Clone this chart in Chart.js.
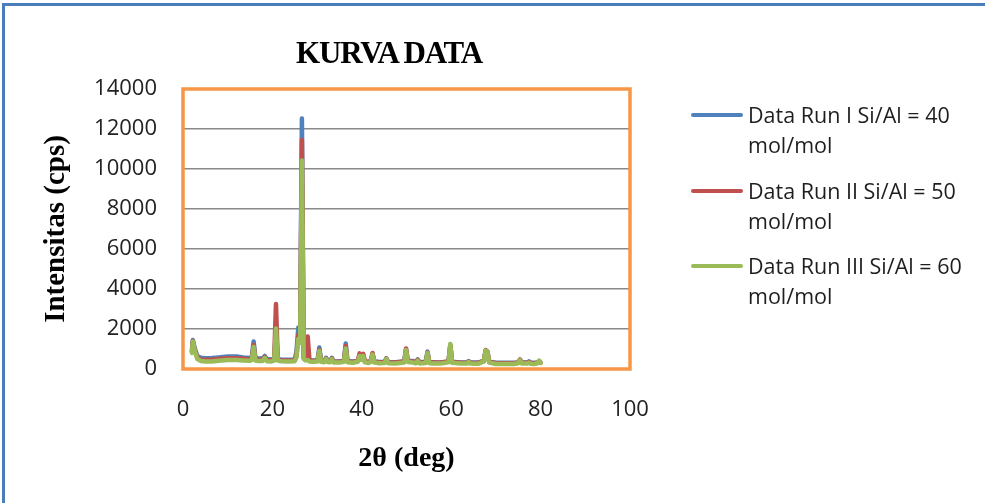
<!DOCTYPE html>
<html>
<head>
<meta charset="utf-8">
<script src="https://cdn.jsdelivr.net/npm/chart.js@4.4.1/dist/chart.umd.min.js"></script>
<style>
  html, body { margin: 0; padding: 0; background: #fff; }
  #wrap { position: relative; width: 985px; height: 503px; overflow: hidden; }
  #frame { position: absolute; left: 2px; top: 3px; width: 1000px; height: 520px;
           border-left: 3px solid #4a7ebb; border-top: 3px solid #4a7ebb; }
  canvas { position: absolute; left: 0; top: 0; }
  #title { position: absolute; left: 289px; width: 200px; top: 37px; text-align: center;
           font: bold 31px "Liberation Serif", serif; line-height: 31px; letter-spacing: -1.2px; color: #000; }
  .leg { position: absolute; left: 691px; font: 21.5px "Open Sans", sans-serif; line-height: 30px; color: #1e1e1e; }
  .leg .sw { position: absolute; left: 0; top: 13px; width: 52px; height: 4px; border-radius: 2px; }
  .leg .tx { margin-left: 57px; white-space: nowrap; }
</style>
</head>
<body>
<div id="wrap">
  <div id="frame"></div>
  <canvas id="xrd" width="985" height="503"></canvas>
  <div id="title">KURVA DATA</div>
  <div id="legend"></div>
</div>
<script>
// 2-theta positions (deg)
const twoTheta = [2.0, 2.2, 2.6, 3.2, 4.0, 5.0, 6.5, 8.0, 10.0, 12.0,
  13.5, 15.0, 15.4, 15.8, 16.2, 16.8, 17.8, 18.3, 18.8, 19.8,
  20.4, 20.8, 21.2, 22.0, 23.5, 25.0, 25.4, 25.8, 26.2, 26.6,
  27.0, 27.4, 27.9, 28.3, 29.0, 30.1, 30.5, 30.9, 31.6, 32.0,
  32.4, 32.9, 33.3, 33.7, 35.0, 36.0, 36.4, 36.8, 38.0, 39.1,
  39.5, 39.9, 40.3, 40.7, 41.5, 42.0, 42.4, 42.8, 44.0, 45.1,
  45.5, 45.9, 47.5, 49.5, 49.9, 50.3, 51.5, 52.1, 52.5, 52.9,
  54.3, 54.7, 55.1, 56.0, 57.5, 59.4, 59.8, 60.2, 62.0, 63.5,
  63.9, 64.3, 66.0, 67.3, 67.7, 68.1, 68.5, 70.0, 72.0, 74.0,
  75.0, 75.4, 75.8, 77.0, 77.4, 77.8, 78.6, 79.3, 79.7, 80.0];

// intensities (cps)
const run1 = [900, 1450, 1050, 650, 560, 540, 550, 580, 620, 620,
  580, 550, 600, 1380, 560, 520, 520, 650, 500, 480,
  500, 1900, 480, 470, 460, 470, 900, 2080, 1500, 12530,
  600, 480, 480, 430, 420, 430, 1070, 420, 400, 560,
  400, 400, 560, 390, 380, 420, 1280, 400, 370, 400,
  700, 500, 700, 380, 360, 400, 750, 380, 350, 360,
  530, 350, 340, 380, 980, 400, 400, 350, 480, 340,
  360, 870, 350, 340, 330, 380, 1200, 360, 330, 330,
  400, 330, 320, 400, 900, 850, 360, 310, 310, 310,
  330, 430, 320, 330, 380, 320, 310, 330, 380, 320];

const run2 = [850, 1400, 1000, 580, 480, 460, 470, 500, 540, 540,
  510, 480, 520, 1200, 490, 460, 460, 600, 450, 440,
  480, 3250, 480, 440, 430, 440, 700, 1700, 1400, 11450,
  550, 500, 1620, 420, 400, 410, 950, 400, 380, 520,
  380, 380, 530, 370, 360, 400, 1150, 380, 350, 400,
  780, 520, 760, 370, 350, 400, 800, 370, 330, 350,
  520, 330, 320, 380, 1030, 400, 370, 330, 460, 320,
  340, 820, 330, 320, 310, 370, 1180, 350, 310, 310,
  380, 310, 300, 400, 950, 880, 360, 290, 290, 290,
  330, 480, 310, 310, 350, 300, 290, 320, 380, 310];

const run3 = [800, 1380, 950, 500, 400, 370, 380, 410, 450, 450,
  430, 410, 450, 1100, 420, 400, 400, 560, 390, 380,
  420, 2030, 420, 390, 380, 390, 600, 1500, 1300, 10420,
  500, 430, 450, 380, 360, 370, 900, 360, 340, 500,
  340, 340, 500, 330, 320, 360, 1030, 340, 310, 360,
  650, 460, 650, 330, 300, 350, 720, 320, 290, 300,
  500, 290, 280, 330, 950, 350, 320, 280, 420, 280,
  300, 800, 290, 280, 270, 340, 1250, 310, 270, 270,
  360, 270, 260, 380, 920, 860, 320, 250, 250, 250,
  290, 450, 270, 270, 320, 260, 250, 290, 420, 300];

const seriesNames = [
  ["Data Run I Si/Al = 40", "mol/mol"],
  ["Data Run II Si/Al = 50", "mol/mol"],
  ["Data Run III Si/Al = 60", "mol/mol"]
];
const seriesColors = ["#4f81bd", "#c0504d", "#9bbb59"];
const xTicks = [0, 20, 40, 60, 80, 100];
const yTicks = [0, 2000, 4000, 6000, 8000, 10000, 12000, 14000];

function toPoints(ys) {
  return ys.map((y, i) => ({ x: twoTheta[i], y: y }));
}

const plotBorder = {
  id: "plotBorder",
  afterDraw(chart) {
    const a = chart.chartArea;
    const ctx = chart.ctx;
    ctx.save();
    ctx.strokeStyle = "#f79646";
    ctx.lineWidth = 3.5;
    ctx.strokeRect(a.left, a.top, a.right - a.left, a.bottom - a.top);
    ctx.restore();
  }
};

const tickFont = { family: "'Open Sans', sans-serif", size: 22 };

const chart = new Chart(document.getElementById("xrd").getContext("2d"), {
  type: "line",
  data: {
    datasets: [run1, run2, run3].map((ys, i) => ({
      label: seriesNames[i].join(" "),
      data: toPoints(ys),
      borderColor: seriesColors[i],
      backgroundColor: seriesColors[i],
      borderWidth: 4.5,
      pointRadius: 0,
      tension: 0,
      borderJoinStyle: "round",
      borderCapStyle: "round",
      order: 3 - i
    }))
  },
  options: {
    responsive: false,
    animation: false,
    layout: { padding: { left: 0, top: 89, right: 355, bottom: 0 } },
    plugins: { legend: { display: false }, tooltip: { enabled: false } },
    scales: {
      x: {
        type: "linear",
        min: 0,
        max: 100,
        afterFit(scale) { scale.height = 134; },
        afterBuildTicks(scale) { scale.ticks = xTicks.map(v => ({ value: v })); },
        grid: { display: false, drawTicks: false },
        border: { display: false },
        ticks: { padding: 28, color: "#222", font: tickFont, maxRotation: 0 },
        title: {
          display: true,
          text: "2θ (deg)",
          color: "#000",
          font: { family: "'Liberation Serif', serif", size: 28, weight: "bold" },
          padding: { top: 0, bottom: 27 }
        }
      },
      y: {
        min: 0,
        max: 14000,
        afterFit(scale) { scale.width = 183; },
        afterBuildTicks(scale) { scale.ticks = yTicks.map(v => ({ value: v })); },
        grid: { color: "#8a8a8a", lineWidth: 1.5, drawTicks: false },
        border: { display: false },
        ticks: { padding: 26, color: "#222", font: tickFont, callback: v => String(v) },
        title: {
          display: true,
          text: "Intensitas (cps)",
          color: "#000",
          font: { family: "'Liberation Serif', serif", size: 29, weight: "bold" },
          padding: { top: 39, bottom: 0 }
        }
      }
    }
  },
  plugins: [plotBorder]
});

// legend, two lines per entry like the original
const legendTops = [100, 176, 251];
const legend = document.getElementById("legend");
seriesNames.forEach((lines, i) => {
  const item = document.createElement("div");
  item.className = "leg";
  item.style.top = legendTops[i] + "px";
  item.innerHTML = '<div class="sw" style="background:' + seriesColors[i] + '"></div>' +
    '<div class="tx">' + lines[0] + "<br>" + lines[1] + "</div>";
  legend.appendChild(item);
});
</script>
</body>
</html>
